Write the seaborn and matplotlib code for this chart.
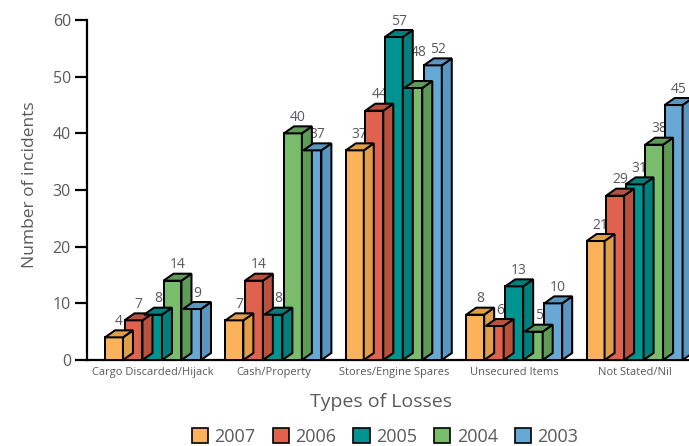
import matplotlib
matplotlib.use("Agg")
import matplotlib.pyplot as plt
from matplotlib.patches import Polygon, Patch
from matplotlib.transforms import IdentityTransform
import pandas as pd
import seaborn as sns

# Incidents by type of loss, one list per year
categories = ["Cargo Discarded/Hijack", "Cash/Property", "Stores/Engine Spares",
              "Unsecured Items", "Not Stated/Nil"]
years = ["2007", "2006", "2005", "2004", "2003"]
incidents_2007 = [4, 7, 37, 8, 21]
incidents_2006 = [7, 14, 44, 6, 29]
incidents_2005 = [8, 8, 57, 13, 31]
incidents_2004 = [14, 40, 48, 5, 38]
incidents_2003 = [9, 37, 52, 10, 45]
y_ticks = [0, 10, 20, 30, 40, 50, 60]

series = [incidents_2007, incidents_2006, incidents_2005, incidents_2004, incidents_2003]
df = pd.DataFrame({
    "category": [c for _ in years for c in categories],
    "year": [y for y in years for _ in categories],
    "count": [v for s in series for v in s],
})

front_colors = ["#FBB25A", "#DE624D", "#009491", "#79BC6C", "#67A8D4"]
depth_colors = ["#E09E48", "#B9513F", "#007F7D", "#5F9A58", "#5A96BF"]
text_grey = "#5A5A5C"
font = "Open Sans"

sns.set_theme(style="white")
plt.rcParams["font.family"] = [font, "DejaVu Sans"]

DPI = 100
EDGE = 1.45
fig = plt.figure(figsize=(6.89, 4.46), dpi=DPI)
ax = fig.add_axes([0.1263, 0.1928, 0.8996, 0.7623])

sns.barplot(data=df, x="category", y="count", hue="year", order=categories,
            hue_order=years, palette=front_colors, width=0.81, gap=0.08,
            edgecolor="black", linewidth=EDGE, saturation=1, legend=False, ax=ax)

ax.set_xlim(-0.548, 4.6)
ax.set_ylim(0, 60)

# pseudo-3D depth in screen pixels
DX, DY = 10, 7
label_nudge = {("2004", "Stores/Engine Spares"): 20}

for k, cont in enumerate(ax.containers):
    for j, bar in enumerate(cont.patches):
        x0, w, h = bar.get_x(), bar.get_width(), bar.get_height()
        (px0, py0), (px1, py1) = ax.transData.transform([(x0, 0), (x0 + w, h)])
        side = Polygon([(px1, py0), (px1 + DX, py0 + DY), (px1 + DX, py1 + DY), (px1, py1)],
                       closed=True, facecolor=depth_colors[k], edgecolor="black",
                       linewidth=EDGE, transform=IdentityTransform(), clip_on=False,
                       zorder=3 + 2 * k)
        top = Polygon([(px0, py1), (px0 + DX, py1 + DY), (px1 + DX, py1 + DY), (px1, py1)],
                      closed=True, facecolor=depth_colors[k], edgecolor="black",
                      linewidth=EDGE, transform=IdentityTransform(), clip_on=False,
                      zorder=3 + 2 * k)
        fig.add_artist(side)
        fig.add_artist(top)
        bar.set_zorder(4 + 2 * k)
        bar.set_clip_on(False)
        extra = label_nudge.get((years[k], categories[j]), 0)
        ax.annotate(f"{h:g}", xy=(x0 + w / 2, h), xytext=(5, 16 + extra),
                    textcoords="offset pixels", ha="center", va="center",
                    fontsize=10, color=text_grey, zorder=4.5 + 2 * k,
                    annotation_clip=False)

# axes styling
for s in ["top", "right"]:
    ax.spines[s].set_visible(False)
for s in ["left", "bottom"]:
    ax.spines[s].set_linewidth(1.6)
    ax.spines[s].set_color("black")
ax.set_yticks(y_ticks)
ax.tick_params(axis="y", left=True, length=8.6, width=1.6, color="black",
               labelsize=11.5, labelcolor=text_grey, pad=3)
ax.tick_params(axis="x", length=0, labelsize=8, labelcolor=text_grey, pad=5)
ax.grid(False)

ax.set_ylabel("Number of incidents", fontsize=12.5, color=text_grey)
ax.yaxis.set_label_coords(-0.079, 0.515)
ax.set_xlabel("Types of Losses", fontsize=14, color=text_grey)
ax.xaxis.set_label_coords(0.474, -0.097)

handles = [Patch(facecolor=c, edgecolor="black", linewidth=1.2) for c in front_colors]
fig.legend(handles, years, loc="center", bbox_to_anchor=(0.559, 0.02), ncol=5,
           frameon=False, fontsize=13, handlelength=0.9, handleheight=0.9,
           handletextpad=0.35, columnspacing=0.95, labelcolor=text_grey,
           borderpad=0, borderaxespad=0)

fig.savefig("out.png", dpi=DPI)
